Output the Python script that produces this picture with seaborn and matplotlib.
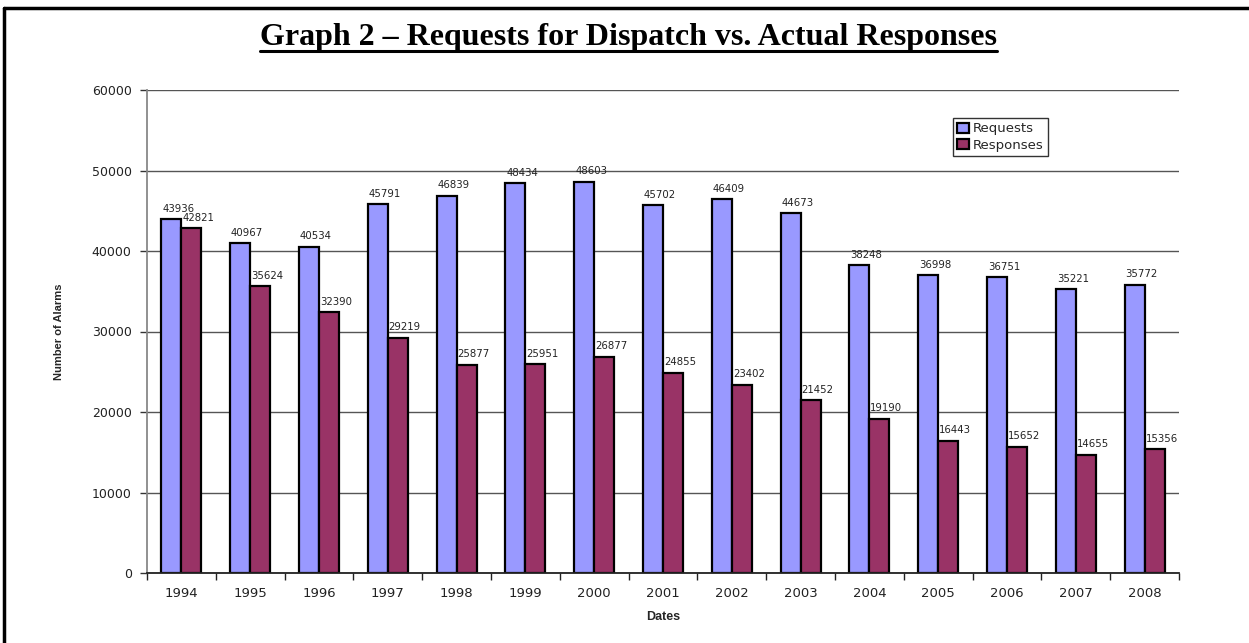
import matplotlib
matplotlib.use("Agg")
import matplotlib.pyplot as plt
from matplotlib.lines import Line2D
import seaborn as sns
import pandas as pd
import numpy as np

years = ["1994", "1995", "1996", "1997", "1998", "1999", "2000", "2001",
         "2002", "2003", "2004", "2005", "2006", "2007", "2008"]
requests = [43936, 40967, 40534, 45791, 46839, 48434, 48603, 45702,
            46409, 44673, 38248, 36998, 36751, 35221, 35772]
responses = [42821, 35624, 32390, 29219, 25877, 25951, 26877, 24855,
             23402, 21452, 19190, 16443, 15652, 14655, 15356]
series_names = ["Requests", "Responses"]
colors = ["#9999FF", "#993366"]

df = pd.DataFrame({
    "Dates": years * 2,
    "Value": requests + responses,
    "Series": [series_names[0]] * len(years) + [series_names[1]] * len(years),
})

sns.set_theme(style="white")
plt.rcParams["font.family"] = ["DejaVu Sans"]

fig = plt.figure(figsize=(12.49, 6.43), dpi=100)
ax = fig.add_axes([147 / 1249, 1 - 573 / 643, (1179 - 147) / 1249, (573 - 90) / 643])

sns.barplot(data=df, x="Dates", y="Value", hue="Series", palette=colors,
            width=0.58, edgecolor="black", linewidth=1.6, ax=ax, legend=True,
            saturation=1)

ax.set_ylim(0, 60000)
ax.set_xlim(-0.5, len(years) - 0.5)
ax.set_yticks(np.arange(0, 60001, 10000))
ax.yaxis.grid(True, color="#555555", linewidth=1)
ax.set_axisbelow(True)
ax.tick_params(axis="y", which="major", length=5, width=1, color="#333333",
               labelsize=9, pad=6, left=True, labelcolor="#222222")
ax.tick_params(axis="x", which="major", length=0, labelsize=9.5, pad=10,
               labelcolor="#222222")
ax.set_xticks(np.arange(-0.5, len(years), 1.0), minor=True)
ax.tick_params(axis="x", which="minor", length=5, width=1, color="#222222",
               bottom=True)

for side in ["top", "right"]:
    ax.spines[side].set_visible(False)
ax.spines["left"].set_color("#888888")
ax.spines["left"].set_linewidth(1.3)
ax.spines["bottom"].set_color("#222222")
ax.spines["bottom"].set_linewidth(1.3)

ax.set_xlabel("Dates", fontsize=9, fontweight="bold", labelpad=8,
              family=["Liberation Sans", "DejaVu Sans"])
ax.set_ylabel("Number of Alarms", fontsize=8, fontweight="bold", labelpad=20,
              family=["Liberation Sans", "DejaVu Sans"])

for container in ax.containers:
    for patch in container:
        h = patch.get_height()
        ax.annotate(f"{int(round(h))}",
                    xy=(patch.get_x() + patch.get_width() / 2, h),
                    xytext=(5, 4), textcoords="offset points",
                    ha="center", va="bottom", fontsize=7.3, color="#222222")

leg = ax.legend(loc="upper left", bbox_to_anchor=(0.775, 0.955), frameon=True,
                fontsize=9.5, handlelength=0.9, handleheight=0.8,
                handletextpad=0.3, borderpad=0.3, labelspacing=0.25,
                fancybox=False, edgecolor="black")
leg.get_frame().set_linewidth(1.0)

title = fig.text(628 / 1249, 1 - 38 / 643,
                 "Graph 2 \u2013 Requests for Dispatch vs. Actual Responses",
                 ha="center", va="center", fontsize=23, fontweight="bold",
                 family=["Liberation Serif", "DejaVu Serif"], color="black")

fig.canvas.draw()
bb = title.get_window_extent(renderer=fig.canvas.get_renderer())
inv = fig.transFigure.inverted()
(x0, y0), (x1, y1) = inv.transform([(bb.x0, bb.y0), (bb.x1, bb.y1)])
fig.add_artist(Line2D([x0, x1], [y0 + 0.002, y0 + 0.002], color="black",
                      linewidth=2.2, transform=fig.transFigure))

# outer frame (top and left visible)
fig.add_artist(Line2D([4 / 1249, 1.0], [1 - 8 / 643, 1 - 8 / 643],
                      color="black", linewidth=2.5, transform=fig.transFigure))
fig.add_artist(Line2D([4 / 1249, 4 / 1249], [0.0, 1 - 8 / 643],
                      color="black", linewidth=2.5, transform=fig.transFigure))

fig.savefig("out.png", dpi=100, facecolor="white")
